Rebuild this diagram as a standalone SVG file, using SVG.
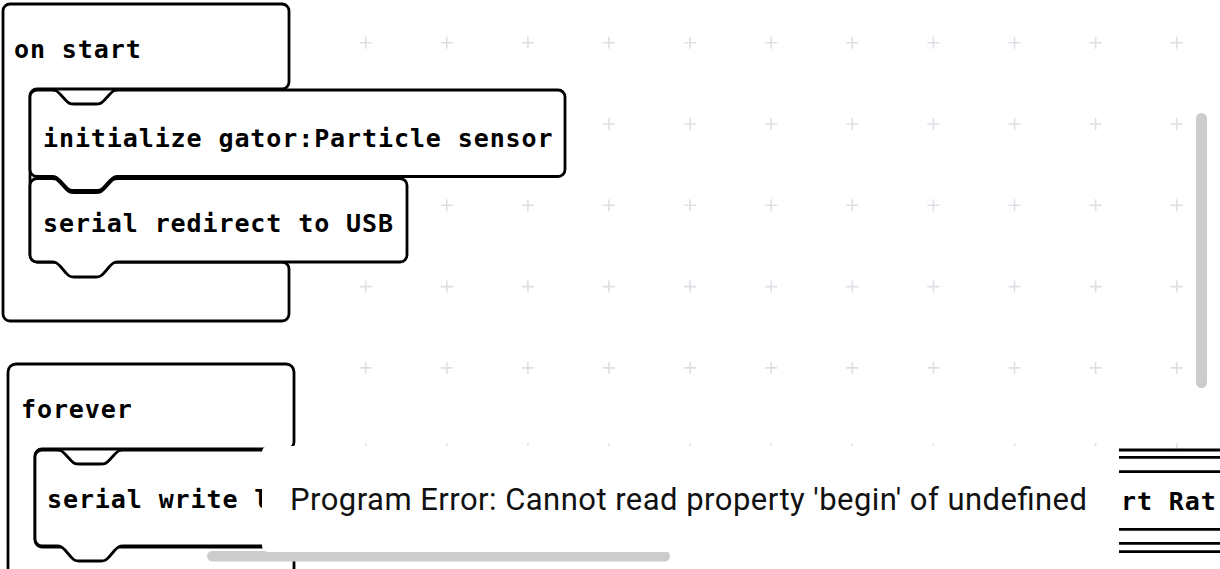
<svg xmlns="http://www.w3.org/2000/svg" width="1220" height="569" viewBox="0 0 1220 569">
  <style>
    .blk { fill: #ffffff; stroke: #000000; stroke-width: 2.8; stroke-linejoin: round; }
    .lbl { font-family: "DejaVu Sans Mono", "Liberation Mono", monospace; font-weight: bold; font-size: 25px; letter-spacing: 0.9px; fill: #000000; }
    .err { font-family: Roboto, "Liberation Sans", sans-serif; font-size: 31px; fill: #111111; }
    .bar { fill: #cccccc; }
    .edge { stroke: #000000; stroke-width: 2.8; }
  </style>
  <defs>
    <path id="cross" d="M-6,0H6M0,-6V6" stroke="#dcdfe3" stroke-width="1.6" fill="none"/>
  </defs>
  <rect x="0" y="0" width="1220" height="569" fill="#ffffff"/>

  <g id="grid">
    <use href="#cross" x="365.7" y="42.7"/><use href="#cross" x="446.8" y="42.7"/><use href="#cross" x="527.9" y="42.7"/><use href="#cross" x="609" y="42.7"/><use href="#cross" x="690.1" y="42.7"/><use href="#cross" x="771.2" y="42.7"/><use href="#cross" x="852.3" y="42.7"/><use href="#cross" x="933.4" y="42.7"/><use href="#cross" x="1014.5" y="42.7"/><use href="#cross" x="1095.6" y="42.7"/><use href="#cross" x="1176.7" y="42.7"/>
    <use href="#cross" x="365.7" y="124"/><use href="#cross" x="446.8" y="124"/><use href="#cross" x="527.9" y="124"/><use href="#cross" x="609" y="124"/><use href="#cross" x="690.1" y="124"/><use href="#cross" x="771.2" y="124"/><use href="#cross" x="852.3" y="124"/><use href="#cross" x="933.4" y="124"/><use href="#cross" x="1014.5" y="124"/><use href="#cross" x="1095.6" y="124"/><use href="#cross" x="1176.7" y="124"/>
    <use href="#cross" x="365.7" y="205.3"/><use href="#cross" x="446.8" y="205.3"/><use href="#cross" x="527.9" y="205.3"/><use href="#cross" x="609" y="205.3"/><use href="#cross" x="690.1" y="205.3"/><use href="#cross" x="771.2" y="205.3"/><use href="#cross" x="852.3" y="205.3"/><use href="#cross" x="933.4" y="205.3"/><use href="#cross" x="1014.5" y="205.3"/><use href="#cross" x="1095.6" y="205.3"/><use href="#cross" x="1176.7" y="205.3"/>
    <use href="#cross" x="365.7" y="286.6"/><use href="#cross" x="446.8" y="286.6"/><use href="#cross" x="527.9" y="286.6"/><use href="#cross" x="609" y="286.6"/><use href="#cross" x="690.1" y="286.6"/><use href="#cross" x="771.2" y="286.6"/><use href="#cross" x="852.3" y="286.6"/><use href="#cross" x="933.4" y="286.6"/><use href="#cross" x="1014.5" y="286.6"/><use href="#cross" x="1095.6" y="286.6"/><use href="#cross" x="1176.7" y="286.6"/>
    <use href="#cross" x="365.7" y="367.9"/><use href="#cross" x="446.8" y="367.9"/><use href="#cross" x="527.9" y="367.9"/><use href="#cross" x="609" y="367.9"/><use href="#cross" x="690.1" y="367.9"/><use href="#cross" x="771.2" y="367.9"/><use href="#cross" x="852.3" y="367.9"/><use href="#cross" x="933.4" y="367.9"/><use href="#cross" x="1014.5" y="367.9"/><use href="#cross" x="1095.6" y="367.9"/><use href="#cross" x="1176.7" y="367.9"/>
    <use href="#cross" x="365.7" y="449.2"/><use href="#cross" x="446.8" y="449.2"/><use href="#cross" x="527.9" y="449.2"/><use href="#cross" x="609" y="449.2"/><use href="#cross" x="690.1" y="449.2"/><use href="#cross" x="771.2" y="449.2"/><use href="#cross" x="852.3" y="449.2"/><use href="#cross" x="933.4" y="449.2"/><use href="#cross" x="1014.5" y="449.2"/><use href="#cross" x="1095.6" y="449.2"/><use href="#cross" x="1176.7" y="449.2"/>
  </g>

  <g id="connectors"></g>

  <g id="on-start">
    <path class="blk" d="M3,11 A7,7 0 0 1 10,4 H282 A7,7 0 0 1 289,11 V82 A7,7 0 0 1 282,89 H37 A7,7 0 0 0 30,96 V255 A7,7 0 0 0 37,262 H282 A7,7 0 0 1 289,269 V314 A7,7 0 0 1 282,321 H10 A7,7 0 0 1 3,314 Z"/>
    <text class="lbl" x="14" y="57.5">on start</text>
  </g>

  <g id="initialize">
    <path class="blk" d="M30,97 A7,7 0 0 1 37,90 H52 C56,90 57,91 60,94 L66,100.5 C69,103.5 70,104 74,104 H96 C100,104 101,103.5 104,100.5 L110,94 C113,91 114,90 118,90 H558 A7,7 0 0 1 565,97 V169.5 A7,7 0 0 1 558,176.5 H118 C114,176.5 113,177.5 110,180.5 L104,187 C101,190 100,190.5 96,190.5 H74 C70,190.5 69,190 66,187 L60,180.5 C57,177.5 56,176.5 52,176.5 H37 A7,7 0 0 1 30,169.5 Z"/>
    <text class="lbl" x="43" y="146.5">initialize gator:Particle sensor</text>
  </g>

  <g id="serial-redirect">
    <path class="blk" d="M30,185.5 A7,7 0 0 1 37,178.5 H52 C56,178.5 57,179.5 60,182.5 L66,189 C69,192 70,192.5 74,192.5 H96 C100,192.5 101,192 104,189 L110,182.5 C113,179.5 114,178.5 118,178.5 H400 A7,7 0 0 1 407,185.5 V255 A7,7 0 0 1 400,262 H118 C114,262 113,263 110,266 L104,273 C101,276 100,277 96,277 H74 C70,277 69,276 66,273 L60,266 C57,263 56,262 52,262 H37 A7,7 0 0 1 30,255 Z"/>
    <text class="lbl" x="43" y="231.5">serial redirect to USB</text>
  </g>

  <g id="forever">
    <path class="blk" d="M8,372 A8,8 0 0 1 16,364 H286 A8,8 0 0 1 294,372 V442 A7,7 0 0 1 287,449 H42 A7,7 0 0 0 35,456 V540 A7,7 0 0 0 42,547 H287 A7,7 0 0 1 294,554 V600 H8 Z"/>
    <text class="lbl" x="21" y="417.5">forever</text>
  </g>

  <g id="serial-write">
    <path class="blk" d="M35,457 A7,7 0 0 1 42,450 H57 C61,450 62,451 65,454 L71,460.5 C74,463.5 75,464 79,464 H101 C105,464 106,463.5 109,460.5 L115,454 C118,451 119,450 123,450 H700 V546 H123 C119,546 118,547 115,550 L109,557 C106,560 105,561 101,561 H79 C75,561 74,560 71,557 L65,550 C62,547 61,546 57,546 H42 A7,7 0 0 1 35,539 Z"/>
    <text class="lbl" x="47" y="507.5">serial write l</text>
  </g>

  <g id="right-block">
    <rect x="1119" y="448.5" width="101" height="105" fill="#ffffff"/>
    <line class="edge" x1="1119" y1="450" x2="1220" y2="450"/>
    <line class="edge" x1="1119" y1="457.3" x2="1220" y2="457.3"/>
    <line class="edge" x1="1119" y1="471.7" x2="1220" y2="471.7"/>
    <line class="edge" x1="1119" y1="529.3" x2="1220" y2="529.3"/>
    <line class="edge" x1="1119" y1="543.3" x2="1220" y2="543.3"/>
    <line class="edge" x1="1119" y1="551.7" x2="1220" y2="551.7"/>
    <text class="lbl" x="1121" y="510">rt Rat</text>
  </g>

  <g id="scrollbars">
    <rect class="bar" x="207" y="551" width="463" height="10.5" rx="5.25"/>
    <rect class="bar" x="1196" y="113" width="11" height="275" rx="5.5"/>
  </g>

  <g id="error-overlay">
    <rect x="262" y="446" width="857" height="106" rx="6" fill="#ffffff"/>
    <text class="err" x="290" y="510" textLength="797" lengthAdjust="spacing">Program Error: Cannot read property 'begin' of undefined</text>
  </g>
</svg>
